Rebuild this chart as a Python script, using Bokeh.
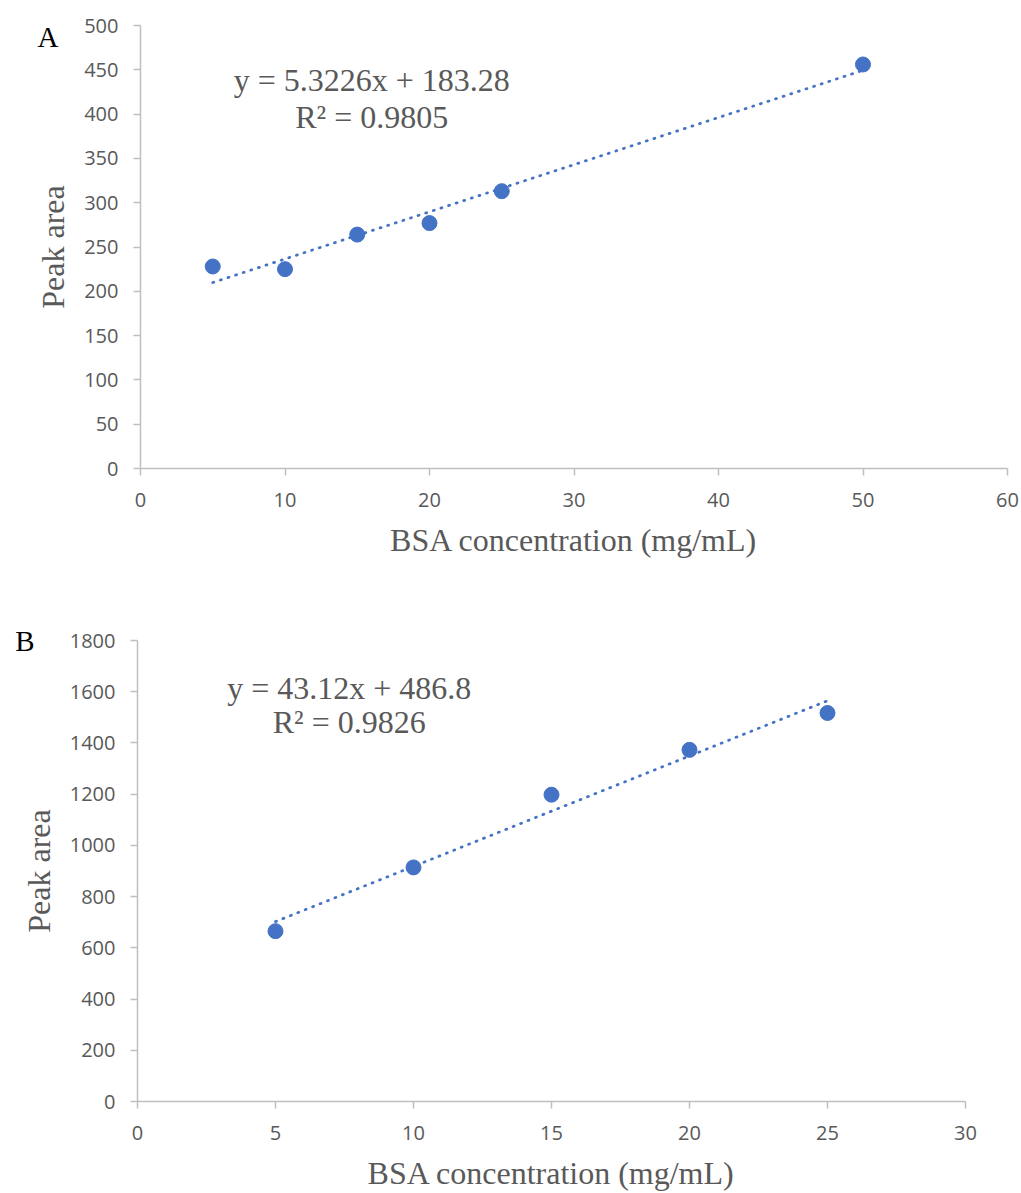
import numpy as np
from bokeh.plotting import figure
from bokeh.models import Range1d, FixedTicker, Label, LinearAxis
from bokeh.embed import file_html
from bokeh.resources import INLINE

# ---- data ----
conc_A = [5, 10, 15, 20, 25, 50]
area_A = [228, 225, 264, 277, 313, 456]
slope_A, intercept_A, r2_A = 5.3226, 183.28, 0.9805

conc_B = [5, 10, 15, 20, 25]
area_B = [665, 914, 1198, 1373, 1517]
slope_B, intercept_B, r2_B = 43.12, 486.8, 0.9826

x_label = "BSA concentration (mg/mL)"
y_label = "Peak area"

BLUE = "#4472C4"
GREY_TXT = "#595959"
AXIS_GREY = "#bfbfbf"
SERIF = "Liberation Serif"
SANS = "Open Sans"


def make_panel(xs, ys, slope, intercept, r2, xmax, xstep, ymax, ystep,
               height, borders, eq_pos, letter, letter_y, letter_standoff, eq_text):
    left, right, top, bottom = borders
    p = figure(width=1021, height=height, output_backend="svg", toolbar_location=None,
               x_range=Range1d(0, xmax), y_range=Range1d(0, ymax),
               min_border_left=left, min_border_right=right,
               min_border_top=top, min_border_bottom=bottom)
    p.outline_line_color = None
    p.xgrid.visible = False
    p.ygrid.visible = False
    p.background_fill_color = "white"
    p.border_fill_color = "white"

    p.xaxis.ticker = FixedTicker(ticks=list(np.arange(0, xmax + 0.001, xstep)))
    p.yaxis.ticker = FixedTicker(ticks=list(np.arange(0, ymax + 0.001, ystep)))
    for ax in (p.xaxis[0], p.yaxis[0]):
        ax.axis_line_color = AXIS_GREY
        ax.axis_line_width = 1.5
        ax.major_tick_line_color = AXIS_GREY
        ax.major_tick_line_width = 1.5
        ax.major_tick_in = 0
        ax.major_tick_out = 7
        ax.minor_tick_line_color = None
        ax.major_label_text_font = SANS
        ax.major_label_text_font_size = "20px"
        ax.major_label_text_color = GREY_TXT
        ax.axis_label_text_font = SERIF
        ax.axis_label_text_font_size = "32px"
        ax.axis_label_text_font_style = "normal"
        ax.axis_label_text_color = GREY_TXT
    p.xaxis.axis_label = x_label
    p.yaxis.axis_label = y_label
    p.xaxis.major_label_standoff = 17
    p.yaxis.major_label_standoff = 15
    p.xaxis.axis_label_standoff = 12
    p.yaxis.axis_label_standoff = 10

    tx = np.array([min(xs), max(xs)], dtype=float)
    ty = slope * tx + intercept
    p.line(tx, ty, line_color=BLUE, line_width=2.75, line_dash="1 7",
           line_cap="round")
    p.scatter(xs, ys, size=15, color=BLUE)

    ex, ey1, ey2 = eq_pos
    p.add_layout(Label(x=ex, y=ey1, text=eq_text, text_font=SERIF,
                       text_font_size="32px", text_color=GREY_TXT,
                       text_align="center", text_baseline="middle"))
    p.add_layout(Label(x=ex, y=ey2, text=f"R² = {r2}", text_font=SERIF,
                       text_font_size="32px", text_color=GREY_TXT,
                       text_align="center", text_baseline="middle"))

    # panel letter drawn as the single tick label of an outer, invisible left axis
    p.extra_y_ranges = {"letter": Range1d(0, ymax)}
    lax = LinearAxis(y_range_name="letter",
                     ticker=FixedTicker(ticks=[letter_y]),
                     major_label_overrides={letter_y: letter},
                     axis_line_color=None, major_tick_line_color=None,
                     minor_tick_line_color=None,
                     major_tick_in=0, major_tick_out=0,
                     major_label_standoff=letter_standoff,
                     major_label_text_font=SERIF,
                     major_label_text_font_size="29px",
                     major_label_text_color="black")
    p.add_layout(lax, "left")
    return p


pA = make_panel(conc_A, area_A, slope_A, intercept_A, r2_A, 60, 10, 500, 50,
                596, (140, 14, 25, 128), (16.0, 438, 397), "A", 487, -26,
                f"y = {slope_A}x + {intercept_A}")
pB = make_panel(conc_B, area_B, slope_B, intercept_B, r2_B, 30, 5, 1800, 200,
                597, (137, 56, 44, 90), (7.67, 1615, 1482), "B", 1800, -17,
                f"y = {slope_B}x + {intercept_B}")

open("out.html", "w").write(file_html([pA, pB], INLINE))
